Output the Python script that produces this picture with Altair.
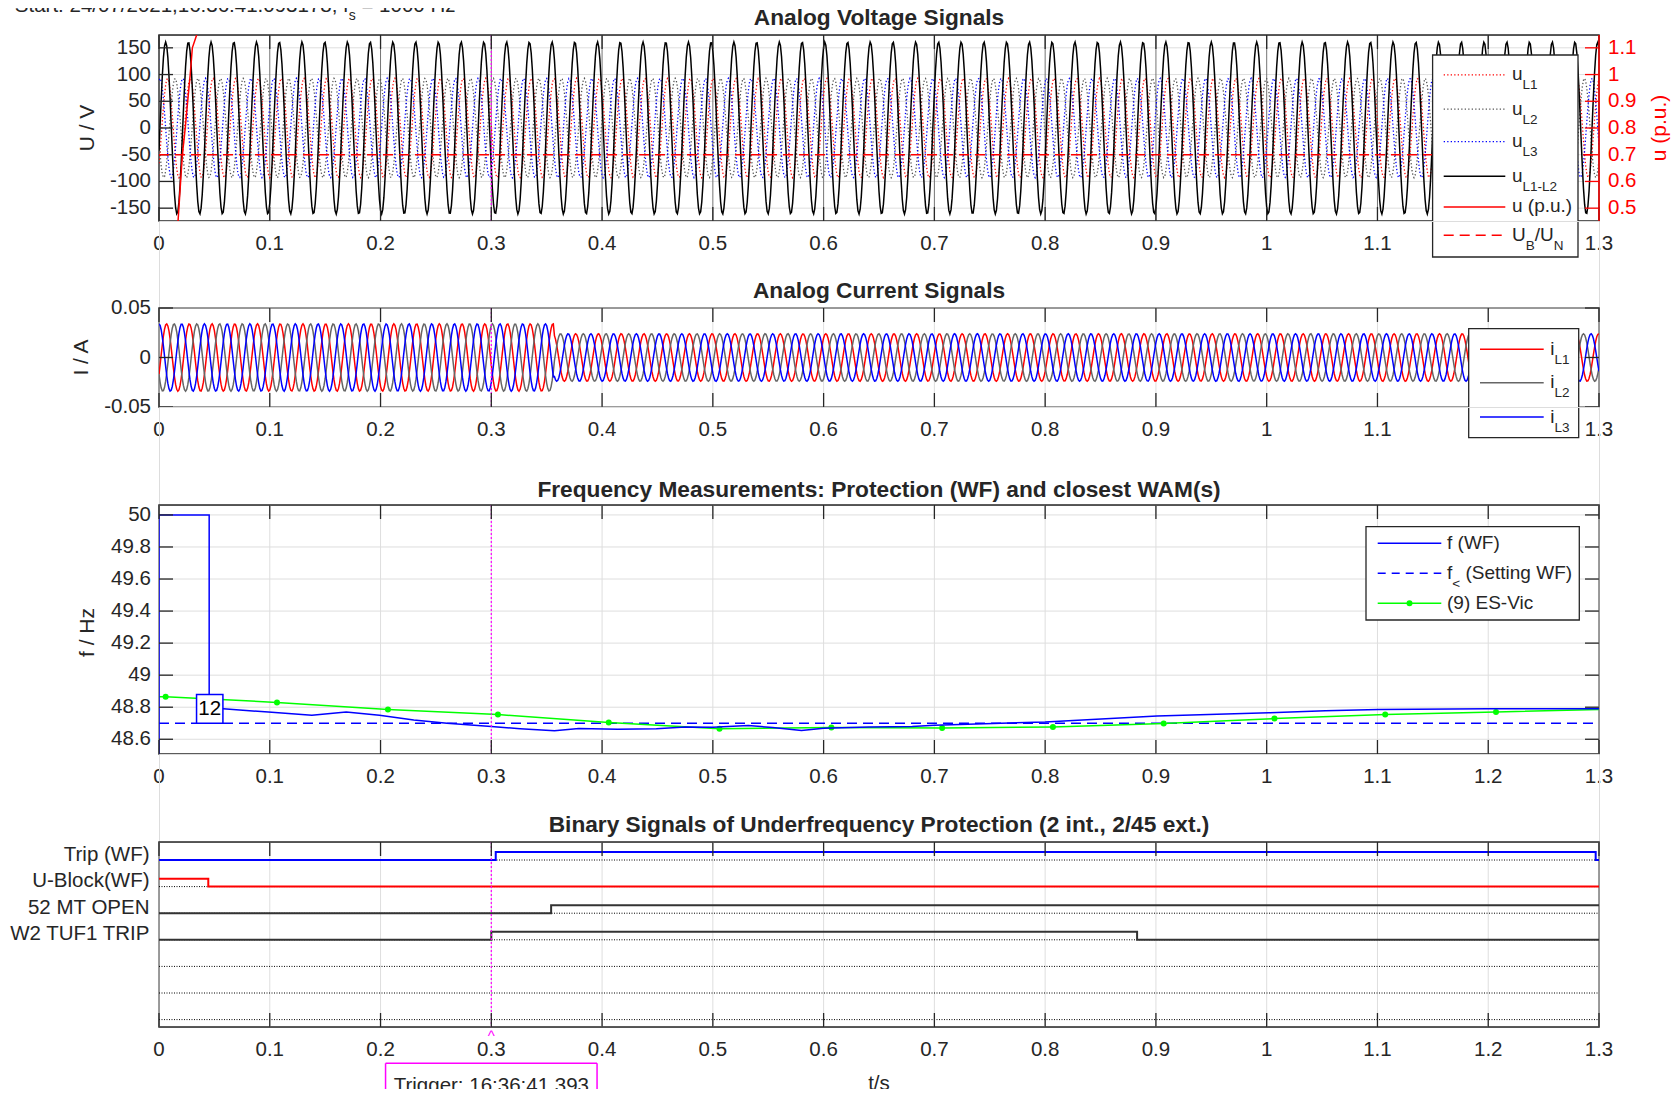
import numpy as np
import pandas as pd
import altair as alt

# ------------------------------------------------------------------ texts
HEADER_SEGMENTS = [("Start: 24/07/2021,16:36:41.093178; f", False), ("s", True), (" = 1000 Hz", False)]
PANEL_TITLES = ["Analog Voltage Signals", "Analog Current Signals",
                "Frequency Measurements: Protection (WF) and closest WAM(s)",
                "Binary Signals of Underfrequency Protection (2 int., 2/45 ext.)"]
Y_TITLES = ["U / V", "I / A", "f / Hz"]
Y2_TITLE = "u (p.u.)"
X_TITLE = "t/s"
TRIGGER_LABEL = "Trigger: 16:36:41.393"
T_TRIGGER = [0.3]

# ------------------------------------------------------------------ ticks / ranges
X_TICKS = [0, 0.1, 0.2, 0.3, 0.4, 0.5, 0.6, 0.7, 0.8, 0.9, 1, 1.1, 1.2, 1.3]
U_TICKS = [-150, -100, -50, 0, 50, 100, 150]
PU_TICKS = [0.5, 0.6, 0.7, 0.8, 0.9, 1, 1.1]
I_TICKS = [-0.05, 0, 0.05]
F_TICKS = [48.6, 48.8, 49, 49.2, 49.4, 49.6, 49.8, 50]
X_DOM = [0, 1.3]
U_DOM = [-174, 174]
PU_DOM = [0.452, 1.148]
I_DOM = [-0.05, 0.05]
F_DOM = [48.508, 50.062]
B_DOM = [-6.278, 0.677]

# ------------------------------------------------------------------ analog waveforms (read parameters)
FS_HZ = 1000          # sampling rate from header
T_END = 1.3
SIG_FREQ = 48.73      # from peak spacing
U_PH_PEAK = 93.0
U_LL_PEAK = 161.0
U_LL_FIRST_MAX = 0.006
I_PEAK_BEFORE = 0.034
I_PEAK_AFTER = 0.024
I_STEP_T = 0.357
I_L3_FIRST_MAX = 0.0

PU_T = [0.0155, 0.0172, 0.0195, 0.0211, 0.0237, 0.0259, 0.0282, 0.0301, 0.0340, 0.0400]
PU_V = [0.38, 0.452, 0.60, 0.70, 0.80, 0.90, 1.00, 1.10, 1.148, 1.175]
UB_UN = [0.7]

# ------------------------------------------------------------------ frequency
FWF_T = [0, 0, 0.0453, 0.0453, 0.058, 0.0987, 0.138, 0.169, 0.199, 0.23, 0.26, 0.30, 0.326, 0.357,
         0.379, 0.414, 0.449, 0.475, 0.50, 0.532, 0.554, 0.58, 0.60, 0.641, 0.68, 0.70, 0.80, 0.901,
         1.002, 1.053, 1.101, 1.20, 1.30]
FWF_F = [48.30, 50.0, 50.0, 48.79, 48.79, 48.77, 48.75, 48.77, 48.75, 48.72, 48.70, 48.68, 48.666, 48.653,
         48.667, 48.663, 48.666, 48.677, 48.675, 48.686, 48.673, 48.654, 48.668, 48.677, 48.68, 48.687,
         48.708, 48.745, 48.765, 48.778, 48.786, 48.79, 48.79]
F_SET = [48.7]
ES_T = [-0.094, 0.006, 0.1065, 0.2067, 0.306, 0.406, 0.506, 0.607, 0.707, 0.807, 0.907, 1.007, 1.107, 1.207, 1.307]
ES_F = [48.88, 48.865, 48.83, 48.786, 48.754, 48.704, 48.666, 48.673, 48.67, 48.677, 48.698, 48.729, 48.754, 48.77, 48.787]
TIP_TEXT = "12"
TIP_T = [0.0339, 0.0577]
TIP_F = [48.70, 48.88]

# ------------------------------------------------------------------ binary channels
BIN_LABELS = ["Trip (WF)", "U-Block(WF)", "52 MT OPEN", "W2 TUF1 TRIP", "", "", ""]
TRIP_T, TRIP_S = [0, 0.304, 1.297, 1.3], [0, 1, 0, 0]
UBLK_T, UBLK_S = [0, 0.0445, 1.3], [1, 0, 0]
MT52_T, MT52_S = [0, 0.354, 1.3], [0, 1, 1]
W2_T, W2_S = [0, 0.3, 0.883, 1.3], [0, 1, 0, 0]

# ------------------------------------------------------------------ style / layout
FONT = "Liberation Sans"
TXT = "#262626"
GRID = "#DEDEDE"
MAG = "#FF00FF"
RED = "#FF0000"
BLUE = "#0000FF"
W = 1440
H_U, H_I, H_F, H_B = 186, 99, 249, 185
GAPS = [86.5, 98, 88]
TL = 14
FS_LAB = 20.5
FS_TIT = 22.7
FS_YT = 21
FS_LEG = 19
FS_SUB = 13.5
BIN_HIGH = 0.3

CW = {' ': 278, '!': 278, '(': 333, ')': 333, ',': 278, '-': 333, '.': 278, '/': 278, ':': 278, ';': 278,
      '<': 584, '=': 584, 'A': 667, 'B': 667, 'C': 722, 'D': 722, 'E': 667, 'F': 611, 'G': 778, 'H': 722,
      'I': 278, 'L': 556, 'M': 833, 'N': 722, 'O': 778, 'P': 667, 'R': 722, 'S': 667, 'T': 611, 'U': 722,
      'V': 667, 'W': 944, 'a': 556, 'c': 500, 'd': 556, 'e': 556, 'f': 278, 'g': 556, 'h': 556, 'i': 222,
      'k': 500, 'l': 222, 'n': 556, 'o': 556, 'p': 556, 'r': 333, 's': 500, 't': 278, 'u': 556, 'v': 500,
      'x': 500, 'y': 500, 'z': 500}
for _d in "0123456789":
    CW[_d] = 556


def textw(s, size):
    return sum(CW.get(c, 556) for c in s) * size / 1000.0


ONE = pd.DataFrame({"_": [0]})
XS = alt.Scale(domain=X_DOM, nice=False, zero=False)


def sc(dom):
    return alt.Scale(domain=dom, nice=False, zero=False)


def labs(values):
    return [f"{v:g}" for v in values]


def frame(h):
    return alt.Chart(ONE).mark_rect(filled=False, stroke=TXT, strokeWidth=1.5).encode(
        x=alt.value(0), x2=alt.value(W), y=alt.value(0), y2=alt.value(h))


def xgrid(h, color=GRID):
    return alt.Chart(pd.DataFrame({"v": X_TICKS})).mark_rule(color=color, strokeWidth=1).encode(
        x=alt.X("v:Q", scale=XS, axis=None), y=alt.value(0), y2=alt.value(h))


def ygrid(values, dom):
    return alt.Chart(pd.DataFrame({"v": values})).mark_rule(color=GRID, strokeWidth=1).encode(
        y=alt.Y("v:Q", scale=sc(dom), axis=None), x=alt.value(0), x2=alt.value(W))


def xticks(h):
    d = pd.DataFrame({"v": X_TICKS, "lab": labs(X_TICKS)})
    bot = alt.Chart(d).mark_rule(color=TXT, strokeWidth=1.3).encode(
        x=alt.X("v:Q", scale=XS, axis=None), y=alt.value(h), y2=alt.value(h - TL))
    top = alt.Chart(d).mark_rule(color=TXT, strokeWidth=1.3).encode(
        x=alt.X("v:Q", scale=XS, axis=None), y=alt.value(0), y2=alt.value(TL))
    lab = alt.Chart(d).mark_text(fontSize=FS_LAB, font=FONT, color=TXT, baseline="middle").encode(
        x=alt.X("v:Q", scale=XS, axis=None), y=alt.value(h + 23), text="lab:N")
    return [bot, top, lab]


def yticks(values, dom, left=True, right=True, color=TXT, labels=True, label_side="left"):
    d = pd.DataFrame({"v": values, "lab": labs(values)})
    out = []
    ys = alt.Y("v:Q", scale=sc(dom), axis=None)
    if left:
        out.append(alt.Chart(d).mark_rule(color=color, strokeWidth=1.3).encode(
            y=ys, x=alt.value(0), x2=alt.value(TL)))
    if right:
        out.append(alt.Chart(d).mark_rule(color=color, strokeWidth=1.3).encode(
            y=ys, x=alt.value(W), x2=alt.value(W - TL)))
    if labels:
        if label_side == "left":
            out.append(alt.Chart(d).mark_text(fontSize=FS_LAB, font=FONT, color=color, baseline="middle",
                                              align="right").encode(y=ys, x=alt.value(-8), text="lab:N"))
        else:
            out.append(alt.Chart(d).mark_text(fontSize=FS_LAB, font=FONT, color=color, baseline="middle",
                                              align="left").encode(y=ys, x=alt.value(W + 9), text="lab:N"))
    return out


def trig(h):
    return alt.Chart(pd.DataFrame({"t": T_TRIGGER})).mark_rule(color=MAG, strokeDash=[2, 2], strokeWidth=1.2).encode(
        x=alt.X("t:Q", scale=XS, axis=None), y=alt.value(0), y2=alt.value(h))


def line(df, field, scale, color, width=1.5, dash=None, order=None, interp=None):
    kw = dict(color=color, strokeWidth=width, clip=True)
    if dash:
        kw["strokeDash"] = dash
    if interp:
        kw["interpolate"] = interp
    enc = dict(x=alt.X("t:Q", scale=XS, axis=None), y=alt.Y(f"{field}:Q", scale=scale, axis=None))
    if order:
        enc["order"] = alt.Order(f"{order}:Q")
    return alt.Chart(df).mark_line(**kw).encode(**enc)


def text(x, y, s, size=FS_LAB, color=TXT, align="center", baseline="alphabetic", weight="normal", angle=0):
    kw = dict(text=s, fontSize=size, color=color, align=align, baseline=baseline, font=FONT, fontWeight=weight)
    if angle:
        kw["angle"] = angle
    return alt.Chart(ONE).mark_text(**kw).encode(x=alt.value(x), y=alt.value(y))


def rich(x, y, segs, size, sub_size, sub_dy, color=TXT):
    out = []
    cx = x
    for s, is_sub in segs:
        fs = sub_size if is_sub else size
        st = s.lstrip(" ")
        cx += (len(s) - len(st)) * CW[" "] * fs / 1000.0
        out.append(text(cx, y + (sub_dy if is_sub else 0), st, size=fs, color=color, align="left"))
        cx += textw(st, fs)
    return out


def legend(box, rows, line_x, text_x):
    x0, y0, x1, y1 = box
    out = [alt.Chart(ONE).mark_rect(fill="white", stroke=TXT, strokeWidth=1.3).encode(
        x=alt.value(x0), x2=alt.value(x1), y=alt.value(y0), y2=alt.value(y1))]
    for ly, st, segs in rows:
        kw = dict(color=st["color"], strokeWidth=st.get("width", 1.5))
        if "dash" in st:
            kw["strokeDash"] = st["dash"]
        out.append(alt.Chart(ONE).mark_rule(**kw).encode(
            x=alt.value(line_x[0]), x2=alt.value(line_x[1]), y=alt.value(ly)))
        if st.get("marker"):
            out.append(alt.Chart(ONE).mark_point(filled=True, color=st["color"], size=36, opacity=1).encode(
                x=alt.value((line_x[0] + line_x[1]) / 2), y=alt.value(ly)))
        out += rich(text_x, ly + 5.5, segs, FS_LEG, FS_SUB, 9)
    return out


# ------------------------------------------------------------------ build waveforms
t = np.arange(0, int(round(T_END * FS_HZ)) + 1) / FS_HZ
period = 1.0 / SIG_FREQ
om = 2 * np.pi * SIG_FREQ
t_l1 = U_LL_FIRST_MAX + period / 12
i_amp = np.where(t < I_STEP_T, I_PEAK_BEFORE, I_PEAK_AFTER)
wave = pd.DataFrame({
    "t": t,
    "uL1": U_PH_PEAK * np.cos(om * (t - t_l1)),
    "uL2": U_PH_PEAK * np.cos(om * (t - t_l1 - period / 3)),
    "uL3": U_PH_PEAK * np.cos(om * (t - t_l1 - 2 * period / 3)),
    "uL12": U_LL_PEAK * np.cos(om * (t - U_LL_FIRST_MAX)),
    "iL1": i_amp * np.cos(om * (t - I_L3_FIRST_MAX - period / 3)),
    "iL2": i_amp * np.cos(om * (t - I_L3_FIRST_MAX - 2 * period / 3)),
    "iL3": i_amp * np.cos(om * (t - I_L3_FIRST_MAX)),
})
pu_df = pd.DataFrame({"t": PU_T, "pu": PU_V})

# ------------------------------------------------------------------ voltage panel
sU, sPU = sc(U_DOM), sc(PU_DOM)
DOT = [1.3, 2.2]
left_grp = alt.layer(
    ygrid(U_TICKS, U_DOM),
    xgrid(H_U, "#747474"),
    line(wave, "uL1", sU, RED, 1.3, DOT),
    line(wave, "uL2", sU, "#555555", 1.3, DOT),
    line(wave, "uL3", sU, BLUE, 1.3, DOT),
    line(wave, "uL12", sU, "#000000", 1.5),
    *yticks(U_TICKS, U_DOM, left=True, right=False),
)
right_grp = alt.layer(
    line(pu_df, "pu", sPU, RED, 1.5),
    alt.Chart(pd.DataFrame({"v": UB_UN})).mark_rule(color=RED, strokeDash=[10, 6], strokeWidth=1.6).encode(
        y=alt.Y("v:Q", scale=sPU, axis=None), x=alt.value(0), x2=alt.value(W)),
    *yticks(PU_TICKS, PU_DOM, left=False, right=True, color=RED, label_side="right"),
)
leg_u = legend((1273.6, 20, 1419, 222), [
    (39.9, dict(color=RED, width=1.3, dash=DOT), [("u", 0), ("L1", 1)]),
    (74.2, dict(color="#555555", width=1.3, dash=DOT), [("u", 0), ("L2", 1)]),
    (106.7, dict(color=BLUE, width=1.3, dash=DOT), [("u", 0), ("L3", 1)]),
    (141.2, dict(color="#000000"), [("u", 0), ("L1-L2", 1)]),
    (171.9, dict(color=RED), [("u (p.u.)", 0)]),
    (200.3, dict(color=RED, dash=[10, 6]), [("U", 0), ("B", 1), ("/U", 0), ("N", 1)]),
], (1284.7, 1346.3), 1353)
p_u = alt.layer(
    frame(H_U), left_grp, right_grp, trig(H_U), *xticks(H_U),
    alt.Chart(ONE).mark_rule(color=RED, strokeWidth=1.5).encode(x=alt.value(W), y=alt.value(0), y2=alt.value(H_U)),
    *leg_u,
    *rich(-144.2, -23.5, HEADER_SEGMENTS, FS_LAB, 14, 8.5),
    text(720, -17.4, PANEL_TITLES[0], FS_TIT, baseline="middle", weight="bold"),
    text(-71, H_U / 2, Y_TITLES[0], FS_YT, baseline="middle", angle=270),
    text(W + 60.6, H_U / 2, Y2_TITLE, FS_YT, color=RED, baseline="middle", angle=270),
).resolve_scale(y="independent").properties(width=W, height=H_U)

# ------------------------------------------------------------------ current panel
sI = sc(I_DOM)
leg_i = legend((1309.7, 20.7, 1419.7, 129.7), [
    (41.3, dict(color=RED), [("i", 0), ("L1", 1)]),
    (74.7, dict(color="#666666"), [("i", 0), ("L2", 1)]),
    (109.0, dict(color=BLUE), [("i", 0), ("L3", 1)]),
], (1321, 1384.7), 1391.3)
p_i = alt.layer(
    frame(H_I), xgrid(H_I), ygrid(I_TICKS, I_DOM),
    line(wave, "iL1", sI, RED, 1.5),
    line(wave, "iL2", sI, "#666666", 1.5),
    line(wave, "iL3", sI, BLUE, 1.5),
    trig(H_I), *xticks(H_I), *yticks(I_TICKS, I_DOM),
    *leg_i,
    text(720, -16.8, PANEL_TITLES[1], FS_TIT, baseline="middle", weight="bold"),
    text(-76.7, H_I / 2, Y_TITLES[1], FS_YT, baseline="middle", angle=270),
).properties(width=W, height=H_I)

# ------------------------------------------------------------------ frequency panel
sF = sc(F_DOM)
fwf = pd.DataFrame({"t": FWF_T, "f": FWF_F, "i": range(len(FWF_T))})
es = pd.DataFrame({"t": ES_T, "f": ES_F})
tip = pd.DataFrame({"t0": [TIP_T[0]], "t1": [TIP_T[1]], "f0": [TIP_F[0]], "f1": [TIP_F[1]],
                    "tc": [sum(TIP_T) / 2], "fc": [sum(TIP_F) / 2]})
GREEN = "#00FF00"
leg_f = legend((1207, 21.7, 1420.3, 115), [
    (38.3, dict(color=BLUE), [("f (WF)", 0)]),
    (68.3, dict(color=BLUE, dash=[8, 6]), [("f", 0), ("<", 1), (" (Setting WF)", 0)]),
    (98.3, dict(color=GREEN, marker=True), [("(9) ES-Vic", 0)]),
], (1218.7, 1282.3), 1288)
p_f = alt.layer(
    frame(H_F), xgrid(H_F), ygrid(F_TICKS, F_DOM),
    alt.Chart(pd.DataFrame({"v": F_SET})).mark_rule(color=BLUE, strokeDash=[10, 6], strokeWidth=1.5).encode(
        y=alt.Y("v:Q", scale=sF, axis=None), x=alt.value(0), x2=alt.value(W)),
    line(es, "f", sF, GREEN, 1.5),
    alt.Chart(es).mark_point(filled=True, color=GREEN, size=36, opacity=1, clip=True).encode(
        x=alt.X("t:Q", scale=XS, axis=None), y=alt.Y("f:Q", scale=sF, axis=None)),
    line(fwf, "f", sF, BLUE, 1.5, order="i"),
    alt.Chart(tip).mark_rect(fill="white", stroke=BLUE, strokeWidth=1.5).encode(
        x=alt.X("t0:Q", scale=XS, axis=None), x2="t1:Q",
        y=alt.Y("f0:Q", scale=sF, axis=None), y2="f1:Q"),
    alt.Chart(tip).mark_text(text=TIP_TEXT, fontSize=FS_LAB, font=FONT, color="#000000", baseline="middle").encode(
        x=alt.X("tc:Q", scale=XS, axis=None), y=alt.Y("fc:Q", scale=sF, axis=None)),
    trig(H_F), *xticks(H_F), *yticks(F_TICKS, F_DOM),
    *leg_f,
    text(720, -14.6, PANEL_TITLES[2], FS_TIT, baseline="middle", weight="bold"),
    text(-71.3, H_F / 2 + 3, Y_TITLES[2], FS_YT, baseline="middle", angle=270),
).properties(width=W, height=H_F)

# ------------------------------------------------------------------ binary panel
sB = sc(B_DOM)


def bin_df(k, ts, ss):
    return pd.DataFrame({"t": ts, "lvl": [-k + BIN_HIGH * s for s in ss]})


named = [(k, lab) for k, lab in enumerate(BIN_LABELS) if lab]
bin_lab_df = pd.DataFrame({"v": [-k + 0.2 for k, _ in named], "lab": [lab for _, lab in named]})
base_df = pd.DataFrame({"lvl": [-k for k in range(len(BIN_LABELS))]})
xc = (T_TRIGGER[0] - X_DOM[0]) / (X_DOM[1] - X_DOM[0]) * W
half = 105.75
p_b = alt.layer(
    frame(H_B), xgrid(H_B),
    alt.Chart(base_df).mark_rule(color="#000000", strokeDash=[1, 1.5], strokeWidth=1).encode(
        y=alt.Y("lvl:Q", scale=sB, axis=None), x=alt.value(0), x2=alt.value(W)),
    line(bin_df(0, TRIP_T, TRIP_S), "lvl", sB, BLUE, 2, interp="step-after"),
    line(bin_df(1, UBLK_T, UBLK_S), "lvl", sB, RED, 2, interp="step-after"),
    line(bin_df(2, MT52_T, MT52_S), "lvl", sB, "#333333", 2, interp="step-after"),
    line(bin_df(3, W2_T, W2_S), "lvl", sB, "#333333", 2, interp="step-after"),
    alt.Chart(bin_lab_df).mark_text(fontSize=FS_LAB, font=FONT, color=TXT, baseline="middle", align="right").encode(
        y=alt.Y("v:Q", scale=sB, axis=None), x=alt.value(-9.5), text="lab:N"),
    trig(H_B), *xticks(H_B),
    alt.Chart(pd.DataFrame({"t": T_TRIGGER})).mark_text(text="^", color=MAG, fontSize=15, font=FONT).encode(
        x=alt.X("t:Q", scale=XS, axis=None), y=alt.value(193.5)),
    alt.Chart(ONE).mark_rule(color=MAG, strokeWidth=1.5).encode(
        x=alt.value(xc - half), x2=alt.value(xc + half), y=alt.value(221.3)),
    alt.Chart(ONE).mark_rule(color=MAG, strokeWidth=1.5).encode(
        x=alt.value(xc - half), y=alt.value(221.3), y2=alt.value(259)),
    alt.Chart(ONE).mark_rule(color=MAG, strokeWidth=1.5).encode(
        x=alt.value(xc + half), y=alt.value(221.3), y2=alt.value(259)),
    text(xc, 250, TRIGGER_LABEL, FS_LAB),
    text(720, 248, X_TITLE, FS_LAB),
    text(720, -17.5, PANEL_TITLES[3], FS_TIT, baseline="middle", weight="bold"),
).properties(width=W, height=H_B)


def spacer(h):
    return alt.Chart(ONE).mark_rule(opacity=0).encode(
        x=alt.value(0), y=alt.value(0), y2=alt.value(1)).properties(width=W, height=h)


chart = alt.vconcat(
    p_u, spacer(GAPS[0]), p_i, spacer(GAPS[1]), p_f, spacer(GAPS[2]), p_b,
    spacing=0, bounds="flush",
).properties(
    padding={"left": 0, "top": -13, "right": 0, "bottom": -14},
).configure_view(strokeOpacity=0).configure(font=FONT)

chart.save("out.html", embed_options={"renderer": "svg", "actions": False})
